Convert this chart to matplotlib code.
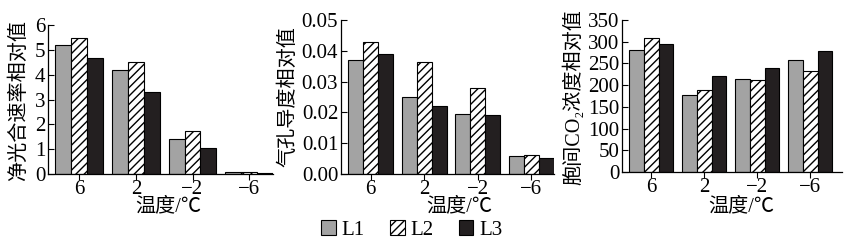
import numpy as np
import matplotlib
matplotlib.use("Agg")
import matplotlib.pyplot as plt
from matplotlib.patches import Patch

plt.rcParams['font.family'] = ['Liberation Serif', 'Noto Sans CJK SC', 'DejaVu Serif']
plt.rcParams['hatch.linewidth'] = 1.0
plt.rcParams['axes.unicode_minus'] = True

# ── Data ──────────────────────────────────────────────────────────────────────
temps = ['6', '2', '\u22122', '\u22126']
series = ['L1', 'L2', 'L3']

pn_L1 = [5.19, 4.17, 1.40, 0.09]
pn_L2 = [5.46, 4.52, 1.73, 0.09]
pn_L3 = [4.68, 3.32, 1.06, 0.04]

gs_L1 = [0.0369, 0.0251, 0.0194, 0.0058]
gs_L2 = [0.0430, 0.0364, 0.0280, 0.0061]
gs_L3 = [0.0389, 0.0221, 0.0190, 0.0053]

ci_L1 = [280, 178, 215, 258]
ci_L2 = [308, 188, 211, 232]
ci_L3 = [294, 222, 240, 279]

# ── Styles ────────────────────────────────────────────────────────────────────
styles = [dict(facecolor='#a3a3a3', hatch=None),
          dict(facecolor='white', hatch='////'),
          dict(facecolor='#231f20', hatch=None)]

W, H = 852, 243
fig = plt.figure(figsize=(W / 100, H / 100), dpi=100)


def px_axes(l, r, t, b):
    return fig.add_axes([l / W, 1 - b / H, (r - l) / W, (b - t) / H])


panels = [
    dict(box=(48, 273, 25, 174), data=(pn_L1, pn_L2, pn_L3), ylim=(0, 6),
         yticks=[0, 1, 2, 3, 4, 5, 6], fmt='{:g}', xlim=(-0.55, 3.42),
         ylabel='净光合速率相对值', ylab_pos=(19, 100), xlab_pos=(168, 207)),
    dict(box=(341, 554, 20, 174), data=(gs_L1, gs_L2, gs_L3), ylim=(0, 0.05),
         yticks=[0, 0.01, 0.02, 0.03, 0.04, 0.05], fmt='{:.2f}', xlim=(-0.55, 3.42),
         ylabel='气孔导度相对值', ylab_pos=(289, 97), xlab_pos=(459, 207)),
    dict(box=(622, 842, 20, 172), data=(ci_L1, ci_L2, ci_L3), ylim=(0, 350),
         yticks=[0, 50, 100, 150, 200, 250, 300, 350], fmt='{:g}', xlim=(-0.55, 3.6),
         ylabel='胞间CO\u2082浓度相对值', ylab_pos=(574, 97), xlab_pos=(741, 207)),
]

x = np.arange(len(temps))
bw = 0.28

for p in panels:
    ax = px_axes(*p['box'])
    for i, vals in enumerate(p['data']):
        ax.bar(x + (i - 1) * bw, vals, bw, edgecolor='black', linewidth=0.8,
               **styles[i])
    ax.set_xlim(*p['xlim'])
    ax.set_ylim(*p['ylim'])
    ax.set_yticks(p['yticks'])
    ax.set_yticklabels([p['fmt'].format(v) for v in p['yticks']], fontsize=15)
    ax.set_xticks(x)
    ax.set_xticklabels(temps, fontsize=15)
    ax.tick_params(axis='y', direction='in', length=4, width=0.8, pad=2)
    ax.tick_params(axis='x', direction='out', length=4, width=0.8, pad=0)
    for s in ['top', 'right']:
        ax.spines[s].set_visible(False)
    for s in ['left', 'bottom']:
        ax.spines[s].set_linewidth(0.9)
    fig.text(p['ylab_pos'][0] / W, 1 - p['ylab_pos'][1] / H, p['ylabel'],
             rotation=90, ha='center', va='center', fontsize=14.5)
    fig.text(p['xlab_pos'][0] / W, 1 - p['xlab_pos'][1] / H, '温度/℃',
             ha='center', va='center', fontsize=14.5)

handles = [Patch(edgecolor='black', linewidth=0.8, **styles[i]) for i in range(3)]
fig.legend(handles, series, loc='center', bbox_to_anchor=(412 / W, 1 - 230 / H),
           ncol=3, frameon=False, fontsize=15, handlelength=0.7, handleheight=0.7,
           handletextpad=0.3, columnspacing=1.2, borderaxespad=0)

fig.savefig('out.png', dpi=100)
